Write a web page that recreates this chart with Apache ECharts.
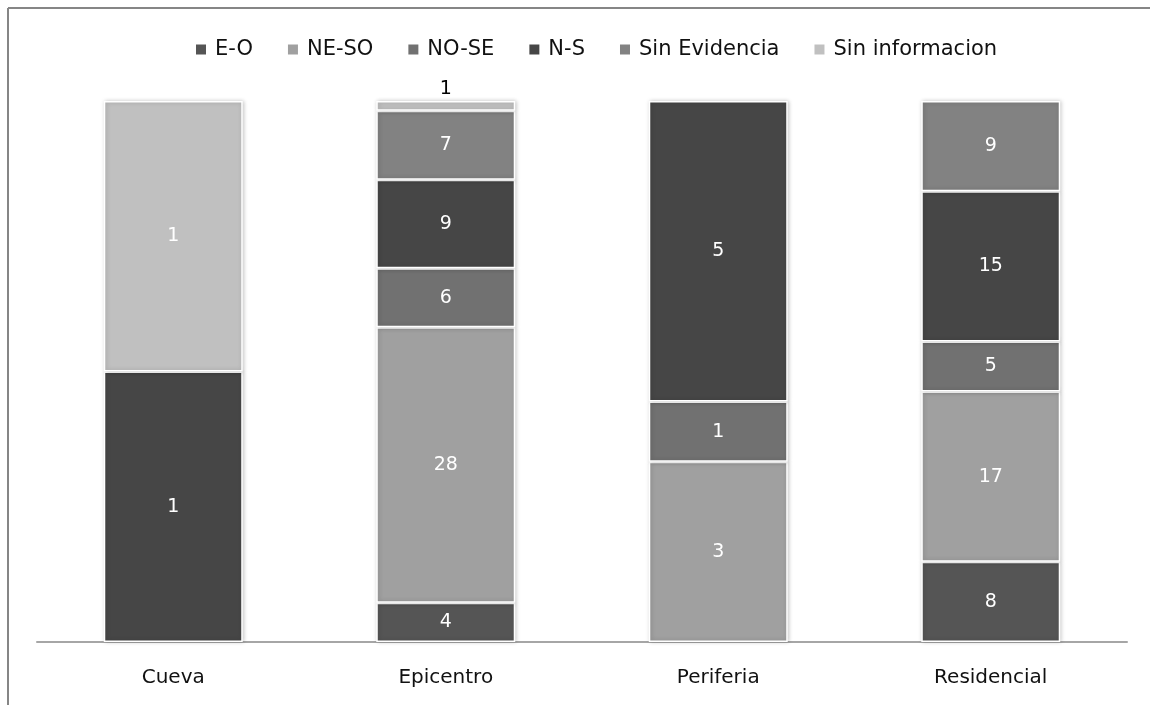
<!DOCTYPE html>
<html><head><meta charset="utf-8">
<script src="https://cdn.jsdelivr.net/npm/echarts@6/dist/echarts.min.js"></script>
<style>html,body{margin:0;padding:0;background:#fff}#c{width:1150px;height:705px}</style>
</head><body><div id="c"></div>
<script>
const categories = ['Cueva', 'Epicentro', 'Periferia', 'Residencial'];
const seriesNames = ['E-O', 'NE-SO', 'NO-SE', 'N-S', 'Sin Evidencia', 'Sin informacion'];
const eo = [0, 4, 0, 8];
const neso = [0, 28, 3, 17];
const nose = [0, 6, 1, 5];
const ns = [1, 9, 5, 15];
const sinEvidencia = [0, 7, 0, 9];
const sinInformacion = [1, 1, 0, 0];
const colors = ['#555555', '#a0a0a0', '#717171', '#464646', '#828282', '#c0c0c0'];

const raw = [eo, neso, nose, ns, sinEvidencia, sinInformacion];
const totals = categories.map((_, i) => raw.reduce((s, arr) => s + arr[i], 0));
const font = '"DejaVu Sans", sans-serif';

const series = raw.map((arr, si) => ({
  name: seriesNames[si],
  type: 'bar',
  stack: 'total',
  barWidth: '51%',
  itemStyle: { color: colors[si], borderColor: '#ffffff', borderWidth: 1.5,
    shadowBlur: 4, shadowOffsetX: 1, shadowColor: 'rgba(0,0,0,0.22)' },
  data: arr.map((v, i) => {
    const d = { value: v === 0 ? null : v / totals[i] * 100, raw: v };
    if (si === 5 && i === 1) {
      d.label = { show: true, position: 'top', color: '#000', distance: 2 };
    }
    return d;
  }),
  label: { show: true, position: 'inside', color: '#ffffff', fontSize: 19, fontFamily: font,
    formatter: p => p.data.raw }
}));

const chart = echarts.init(document.getElementById('c'));
chart.setOption({
  animation: false,
  backgroundColor: '#fff',
  graphic: [
    { type: 'line', shape: { x1: 8, y1: 8, x2: 1150, y2: 8 }, style: { stroke: '#868686', lineWidth: 2 } },
    { type: 'line', shape: { x1: 8, y1: 8, x2: 8, y2: 705 }, style: { stroke: '#868686', lineWidth: 2 } }
  ],
  legend: {
    top: 34, left: 189, itemWidth: 12, itemHeight: 12, itemGap: 33,
    icon: 'rect',
    textStyle: { fontSize: 21, fontFamily: font, color: '#111', padding: [0, 0, 0, 3] },
    data: seriesNames
  },
  grid: { left: 37, right: 23, top: 101, bottom: 63, containLabel: false },
  xAxis: {
    type: 'category', data: categories,
    axisLine: { lineStyle: { color: '#a6a6a6', width: 2 } },
    axisTick: { show: false },
    axisLabel: { fontSize: 20, fontFamily: font, color: '#111', margin: 26 }
  },
  yAxis: { type: 'value', min: 0, max: 100, show: false, splitLine: { show: false } },
  series
});
</script></body></html>
